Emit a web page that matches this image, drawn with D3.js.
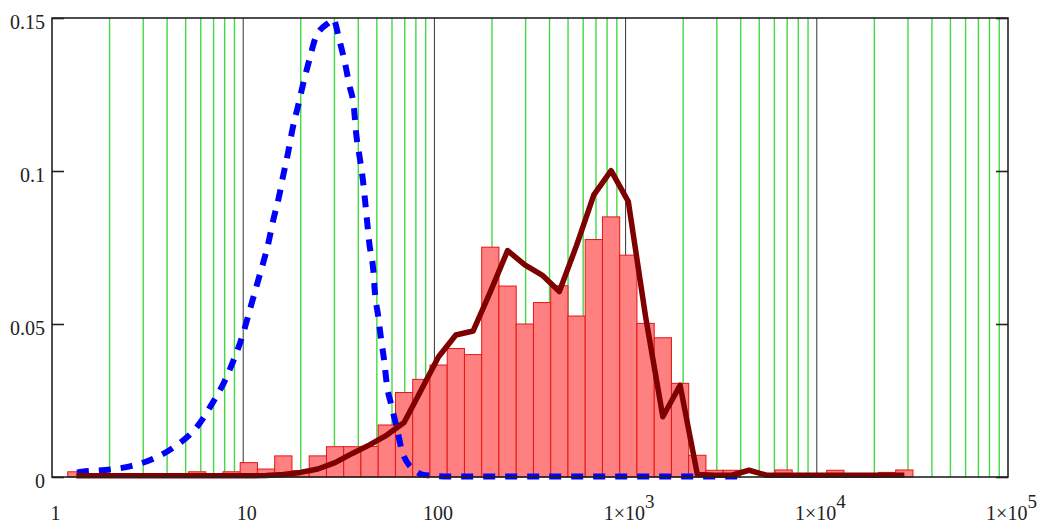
<!DOCTYPE html>
<html>
<head>
<meta charset="utf-8">
<script src="https://cdn.jsdelivr.net/npm/d3@7"></script>
<style>
  html, body { margin: 0; padding: 0; background: #fff; }
  svg { display: block; }
  text { font-family: "Liberation Serif", "Times New Roman", serif; }
</style>
</head>
<body>
<svg id="chart" width="1041" height="523"></svg>
<script>
// ---------- data ----------
const binLow = 1.208;      // lower edge of first histogram bin
const binRatio = 1.2309;   // ratio between successive bin edges (log bins)

const barValues = [
  0.0017, 0, 0, 0, 0, 0, 0, 0.0017, 0, 0.0017,
  0.0047, 0.0026, 0.0069, 0.0020, 0.0069, 0.0099, 0.0099, 0.0100, 0.0170, 0.0276,
  0.0319, 0.0366, 0.0420, 0.0400, 0.0751, 0.0624, 0.0500, 0.0570, 0.0625, 0.0526,
  0.0776, 0.0850, 0.0725, 0.0502, 0.0455, 0.0306, 0.0071, 0.0022, 0.0022, 0,
  0, 0.0023, 0, 0, 0.0022, 0.0010, 0, 0.0015, 0.0023
];

const lineValues = [
  0.0004, 0.0004, 0.0004, 0.0004, 0.0004, 0.0004, 0.0004, 0.0004, 0.0004, 0.0004,
  0.0004, 0.0005, 0.0008, 0.0015, 0.0026, 0.0047, 0.0077, 0.0105, 0.0137, 0.0178,
  0.0285, 0.0393, 0.0464, 0.0477, 0.0605, 0.0740, 0.0693, 0.0660, 0.0606, 0.0757,
  0.0922, 0.1001, 0.0900, 0.0524, 0.0197, 0.0300, 0.0008, 0.0006, 0.0006, 0.0022,
  0.0006, 0.0006, 0.0006, 0.0006, 0.0006, 0.0006, 0.0006, 0.0006, 0.0006
];

const blueX = [1.351, 1.435, 1.900, 2.518, 3.334, 4.330, 5.733, 6.867, 8.003, 8.984,
  9.94, 10.76, 12.07, 13.53, 14.37, 15.39, 16.21, 17.21, 18.15, 19.42,
  20.62, 22.17, 24.03, 28.44, 29.59, 31.81, 34.08, 35.89, 37.97, 38.90,
  40.49, 42.17, 43.36, 44.57, 45.66, 47.90, 48.89, 50.87, 52.55, 54.70,
  56.30, 59.80, 64.27, 68.26, 80.80, 87.5, 120, 300, 1000, 4300];
const blueY = [0.0014, 0.0017, 0.0023, 0.0034, 0.0058, 0.0097, 0.0164, 0.0239, 0.0314, 0.0388,
  0.0464, 0.0540, 0.0650, 0.0764, 0.0840, 0.0916, 0.0987, 0.1063, 0.1140, 0.1216,
  0.1287, 0.1363, 0.1439, 0.1488, 0.1497, 0.1428, 0.1352, 0.1281, 0.1205, 0.1128,
  0.1052, 0.0976, 0.0905, 0.0829, 0.0764, 0.0676, 0.0600, 0.0524, 0.0453, 0.0377,
  0.0306, 0.0230, 0.0148, 0.0077, 0.0017, 0.0007, 0.0002, 0.0002, 0.0002, 0.0002];

const yTicks = [0, 0.05, 0.1, 0.15];
const yTickLabels = ["0", "0.05", "0.1", "0.15"];
const xTicks = [1, 10, 100, 1000, 10000, 100000];
const xTickLabels = [["1", ""], ["10", ""], ["100", ""], ["1×10", "3"], ["1×10", "4"], ["1×10", "5"]];
const gridMultipliers = [2, 3, 4, 5, 6, 7, 8, 9];
const gridDecades = [1, 10, 100, 1000, 10000];

// ---------- layout ----------
const svg = d3.select("#chart");
const L = 52, R = 1008, T = 18, B = 477;
const x = d3.scaleLog().domain([1, 1e5]).range([L, R]);
const y = d3.scaleLinear().domain([0, 0.15]).range([B, T]);

// green minor grid
const minor = [];
gridDecades.forEach(d => gridMultipliers.forEach(m => minor.push(m * d)));
svg.append("g").selectAll("line").data(minor).join("line")
  .attr("x1", d => x(d)).attr("x2", d => x(d))
  .attr("y1", T).attr("y2", B)
  .attr("stroke", "#44d844").attr("stroke-width", 1.4);

// black decade grid
svg.append("g").selectAll("line").data(xTicks.slice(1, -1)).join("line")
  .attr("x1", d => x(d)).attr("x2", d => x(d))
  .attr("y1", T).attr("y2", B)
  .attr("stroke", "#333").attr("stroke-width", 1);

// histogram bars
const bins = barValues.map((v, k) => ({
  x0: binLow * Math.pow(binRatio, k),
  x1: binLow * Math.pow(binRatio, k + 1),
  v
}));
svg.append("g").selectAll("rect").data(bins.filter(b => b.v > 0)).join("rect")
  .attr("x", d => x(d.x0))
  .attr("width", d => x(d.x1) - x(d.x0))
  .attr("y", d => y(d.v))
  .attr("height", d => y(0) - y(d.v))
  .attr("fill", "#ff8080")
  .attr("stroke", "#e81414")
  .attr("stroke-width", 1);

// blue dashed curve
const bluePts = blueX.map((v, i) => [v, blueY[i]]);
svg.append("path")
  .datum(bluePts)
  .attr("fill", "none")
  .attr("stroke", "#0000ff")
  .attr("stroke-width", 6)
  .attr("stroke-dasharray", "12,10")
  .attr("d", d3.line().x(d => x(d[0])).y(d => y(d[1])).curve(d3.curveMonotoneX));

// dark red polyline at bin centres
const redPts = lineValues.map((v, k) => [binLow * Math.pow(binRatio, k + 0.5), v]);
svg.append("path")
  .datum(redPts)
  .attr("fill", "none")
  .attr("stroke", "#7f0000")
  .attr("stroke-width", 5.5)
  .attr("stroke-linejoin", "round")
  .attr("d", d3.line().x(d => x(d[0])).y(d => y(d[1])));

// frame
svg.append("rect")
  .attr("x", L).attr("y", T).attr("width", R - L).attr("height", B - T)
  .attr("fill", "none").attr("stroke", "#222").attr("stroke-width", 1.6);

// y axis (left) with inward ticks
const yAxisL = d3.axisLeft(y).tickValues(yTicks).tickSize(-12).tickPadding(7)
  .tickFormat((d, i) => yTickLabels[i]);
const gy = svg.append("g").attr("transform", `translate(${L},0)`).call(yAxisL);
gy.select(".domain").remove();
gy.selectAll(".tick line").attr("stroke", "#222").attr("stroke-width", 1.6);
gy.selectAll("text").attr("font-size", 20).attr("fill", "#222")
  .attr("font-family", "Liberation Serif").attr("dy", "0.5em");

// y axis (right) ticks only
const yAxisR = d3.axisRight(y).tickValues(yTicks).tickSize(-12).tickFormat("");
const gyr = svg.append("g").attr("transform", `translate(${R},0)`).call(yAxisR);
gyr.select(".domain").remove();
gyr.selectAll(".tick line").attr("stroke", "#222").attr("stroke-width", 1.6);

// x axis labels
const xAxis = d3.axisBottom(x).tickValues(xTicks).tickSize(0).tickPadding(0).tickFormat("");
const gx = svg.append("g").attr("transform", `translate(0,${B})`).call(xAxis);
gx.select(".domain").remove();
gx.selectAll(".tick text").each(function (d, i) {
  const t = d3.select(this);
  t.attr("y", 43).attr("dy", null).attr("x", 3)
   .attr("font-size", 20).attr("fill", "#222").attr("font-family", "Liberation Serif")
   .attr("text-anchor", "middle");
  t.append("tspan").text(xTickLabels[i][0]);
  if (xTickLabels[i][1]) {
    t.append("tspan").attr("dy", -12).attr("font-size", 19).text(xTickLabels[i][1]);
  }
});
</script>
</body>
</html>
